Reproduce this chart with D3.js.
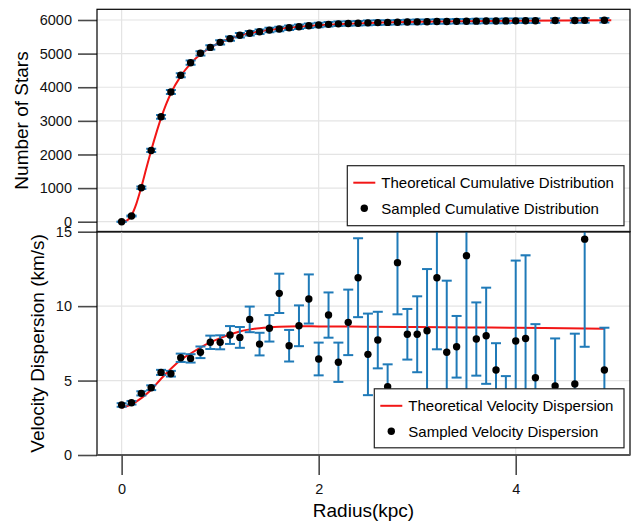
<!DOCTYPE html>
<html lang="en">
<head>
  <meta charset="UTF-8">
  <title>Stars and velocity dispersion</title>
  <style>
    html, body { margin: 0; background: #fff; overflow: hidden; }
    svg { display: block; font-family: "Liberation Sans", Arial, Helvetica, sans-serif; }
  </style>
</head>
<body>
  <div id="chart"></div>
  <script src="https://cdn.jsdelivr.net/npm/d3@7"></script>
  <script>
    // sampled radii (kpc), bins 4.3, 4.5 and 4.8 are empty
    const radius = [0, 0.1, 0.2, 0.3, 0.4, 0.5, 0.6, 0.7, 0.8, 0.9,
      1.0, 1.1, 1.2, 1.3, 1.4, 1.5, 1.6, 1.7, 1.8, 1.9,
      2.0, 2.1, 2.2, 2.3, 2.4, 2.5, 2.6, 2.7, 2.8, 2.9,
      3.0, 3.1, 3.2, 3.3, 3.4, 3.5, 3.6, 3.7, 3.8, 3.9,
      4.0, 4.1, 4.2, 4.4, 4.6, 4.7, 4.9]

    const sampledCount = [0, 170, 1010, 2120, 3120, 3860, 4355, 4730, 5010, 5185,
      5335, 5445, 5545, 5605, 5650, 5700, 5730, 5770, 5800, 5830,
      5850, 5870, 5885, 5895, 5905, 5915, 5922, 5928, 5934, 5940,
      5945, 5949, 5953, 5957, 5960, 5963, 5966, 5969, 5971, 5973,
      5975, 5977, 5979, 5983, 5987, 5989, 5993]
    const countErr = [0, 15, 35, 48, 55, 58, 60, 62, 63, 64,
      65, 65, 66, 66, 66, 67, 67, 67, 67, 67,
      67, 67, 67, 67, 68, 68, 68, 68, 68, 68,
      68, 68, 68, 68, 68, 68, 68, 68, 68, 68,
      68, 68, 68, 68, 68, 68, 68]

    const theoryCumR = [0, 0.05, 0.1, 0.15, 0.2, 0.25, 0.3, 0.35, 0.4, 0.45, 0.5, 0.6, 0.7, 0.8, 0.9,
      1.0, 1.2, 1.4, 1.6, 1.8, 2.0, 2.5, 3.0, 3.5, 4.0, 4.5, 4.97]
    const theoryCum = [0, 30, 190, 540, 1030, 1580, 2120, 2620, 3080, 3480, 3820, 4330, 4700, 4980, 5180,
      5330, 5540, 5660, 5740, 5800, 5845, 5910, 5945, 5965, 5978, 5986, 5992]

    const sampledSigma = [3.36, 3.51, 4.14, 4.52, 5.55, 5.46, 6.53, 6.49, 6.90, 7.57,
      7.57, 8.06, 7.90, 9.11, 7.45, 8.51, 10.86, 7.34, 8.68, 10.48,
      6.45, 9.40, 6.23, 8.91, 11.91, 6.76, 7.72, 4.59, 12.92, 8.11,
      8.11, 8.35, 11.91, 6.90, 7.27, 13.39, 7.79, 8.01, 5.71, 4.10,
      7.66, 7.83, 5.19, 4.63, 4.77, 14.50, 5.71]
    const sigmaErr = [0.12, 0.12, 0.14, 0.16, 0.17, 0.19, 0.28, 0.28, 0.39, 0.45,
      0.47, 0.60, 0.70, 0.86, 0.76, 0.89, 1.32, 1.06, 1.37, 1.65,
      1.10, 1.52, 1.32, 2.20, 2.65, 2.74, 1.90, 1.50, 3.47, 1.70,
      2.55, 4.14, 4.81, 4.81, 2.07, 9.50, 2.46, 3.23, 1.80, 1.20,
      5.40, 5.58, 3.60, 3.20, 3.38, 7.23, 2.84]

    const theorySigmaR = [0, 0.1, 0.2, 0.3, 0.4, 0.5, 0.6, 0.7, 0.8, 0.9, 1.0, 1.2, 1.4, 1.6, 1.8,
      2.0, 2.5, 3.0, 3.5, 4.0, 4.5, 4.9]
    const theorySigma = [3.18, 3.40, 3.82, 4.38, 5.12, 5.80, 6.38, 6.82, 7.22, 7.56, 7.85, 8.30, 8.52, 8.62, 8.65,
      8.64, 8.62, 8.60, 8.57, 8.55, 8.52, 8.48]

    const countTicks = [0, 1000, 2000, 3000, 4000, 5000, 6000]
    const sigmaTicks = [0, 5, 10, 15]
    const radiusTicks = [0, 2, 4]

    const width = 634
    const height = 522
    const left = 97
    const right = 630
    const top1 = 9.3
    const mid = 231.7
    const bottom = 455

    const red = '#f21616'
    const blue = '#1f7ab8'
    const gridColor = '#e4e4e4'
    const tickColor = '#4a4a4a'

    const x = d3.scaleLinear().domain([-0.25, 5.16]).range([left, right])
    const y1 = d3.scaleLinear().domain([-297, 6318]).range([mid, top1])
    const y2 = d3.scaleLinear().domain([0, 15]).range([bottom, mid])

    const svg = d3.select('#chart').append('svg')
      .attr('width', width)
      .attr('height', height)

    const defs = svg.append('defs')
    defs.append('clipPath').attr('id', 'clip1')
      .append('rect').attr('x', left).attr('y', top1).attr('width', right - left).attr('height', mid - top1)
    defs.append('clipPath').attr('id', 'clip2')
      .append('rect').attr('x', left).attr('y', mid).attr('width', right - left).attr('height', bottom - mid)

    function drawPanel(yScale, yTicks, yTop, yBottom, clipId, pts, errs, theoryX, theoryY) {
      const g = svg.append('g')

      // grid
      g.append('g').selectAll('line.gx').data(radiusTicks).join('line')
        .attr('x1', d => x(d)).attr('x2', d => x(d))
        .attr('y1', yTop).attr('y2', yBottom)
        .attr('stroke', gridColor).attr('stroke-width', 1.2)
      g.append('g').selectAll('line.gy').data(yTicks).join('line')
        .attr('x1', left).attr('x2', right)
        .attr('y1', d => yScale(d)).attr('y2', d => yScale(d))
        .attr('stroke', gridColor).attr('stroke-width', 1.2)

      const plot = g.append('g').attr('clip-path', `url(#${clipId})`)

      const line = d3.line()
        .x((d, i) => x(theoryX[i]))
        .y(d => yScale(d))
        .curve(d3.curveMonotoneX)
      plot.append('path')
        .datum(theoryY)
        .attr('d', line)
        .attr('fill', 'none')
        .attr('stroke', red)
        .attr('stroke-width', 2)

      const bars = plot.append('g')
        .attr('stroke', blue)
        .attr('stroke-width', 2)
      pts.forEach((v, i) => {
        const cx = x(radius[i])
        const hi = yScale(v + errs[i])
        const lo = yScale(v - errs[i])
        bars.append('line').attr('x1', cx).attr('x2', cx).attr('y1', hi).attr('y2', lo)
        bars.append('line').attr('x1', cx - 5).attr('x2', cx + 5).attr('y1', hi).attr('y2', hi)
        bars.append('line').attr('x1', cx - 5).attr('x2', cx + 5).attr('y1', lo).attr('y2', lo)
      })

      plot.append('g').selectAll('circle').data(pts).join('circle')
        .attr('cx', (d, i) => x(radius[i]))
        .attr('cy', d => yScale(d))
        .attr('r', 3.7)
        .attr('fill', '#000')

      // y axis
      const ax = g.append('g')
        .attr('transform', `translate(${left},0)`)
        .call(d3.axisLeft(yScale).tickValues(yTicks).tickSize(19).tickPadding(6).tickFormat(d3.format('d')))
      ax.select('.domain').remove()
      ax.selectAll('.tick line').attr('stroke', tickColor).attr('stroke-width', 1.6)
      ax.selectAll('.tick text').attr('font-size', 14.5).attr('fill', '#111')
        .attr('font-family', '"Liberation Sans", Arial, sans-serif')

      // frame
      g.append('rect')
        .attr('x', left).attr('y', yTop)
        .attr('width', right - left).attr('height', yBottom - yTop)
        .attr('fill', 'none').attr('stroke', '#000').attr('stroke-width', 1.2)
      g.append('line')
        .attr('x1', left).attr('x2', right)
        .attr('y1', yBottom).attr('y2', yBottom)
        .attr('stroke', '#555').attr('stroke-width', 2)

      return g
    }

    drawPanel(y1, countTicks, top1, mid, 'clip1', sampledCount, countErr, theoryCumR, theoryCum)
    drawPanel(y2, sigmaTicks, mid, bottom, 'clip2', sampledSigma, sigmaErr, theorySigmaR, theorySigma)

    // x axis under the lower panel
    const xa = svg.append('g')
      .attr('transform', `translate(0,${bottom})`)
      .call(d3.axisBottom(x).tickValues(radiusTicks).tickSize(20).tickPadding(9).tickFormat(d3.format('d')))
    xa.select('.domain').remove()
    xa.selectAll('.tick line').attr('stroke', tickColor).attr('stroke-width', 1.6)
    xa.selectAll('.tick text').attr('font-size', 14.5).attr('fill', '#111')
      .attr('font-family', '"Liberation Sans", Arial, sans-serif')

    // axis titles
    svg.append('text')
      .attr('transform', `translate(28,${(top1 + mid) / 2}) rotate(-90)`)
      .attr('text-anchor', 'middle')
      .attr('font-size', 19)
      .text('Number of Stars')
    svg.append('text')
      .attr('transform', `translate(44,${(mid + bottom) / 2}) rotate(-90)`)
      .attr('text-anchor', 'middle')
      .attr('font-size', 19)
      .text('Velocity Dispersion (km/s)')
    svg.append('text')
      .attr('x', (left + right) / 2)
      .attr('y', 517)
      .attr('text-anchor', 'middle')
      .attr('font-size', 19)
      .text('Radius(kpc)')

    function legend(x0, y0, w, h, lineLabel, dotLabel) {
      const lg = svg.append('g').attr('transform', `translate(${x0},${y0})`)
      lg.append('rect')
        .attr('width', w).attr('height', h)
        .attr('fill', '#fff').attr('stroke', '#222').attr('stroke-width', 1.2)
      lg.append('line')
        .attr('x1', 6).attr('x2', 28).attr('y1', 17).attr('y2', 17)
        .attr('stroke', red).attr('stroke-width', 2)
      lg.append('circle').attr('cx', 17).attr('cy', 42.5).attr('r', 3.7).attr('fill', '#000')
      lg.append('text').attr('x', 34).attr('y', 22.5).attr('font-size', 15).text(lineLabel)
      lg.append('text').attr('x', 34).attr('y', 48).attr('font-size', 15).text(dotLabel)
    }

    legend(347.3, 165.7, 276.7, 60, 'Theoretical Cumulative Distribution', 'Sampled Cumulative Distribution')
    legend(374.3, 388.8, 249.7, 59, 'Theoretical Velocity Dispersion', 'Sampled Velocity Dispersion')
  </script>
</body>
</html>
